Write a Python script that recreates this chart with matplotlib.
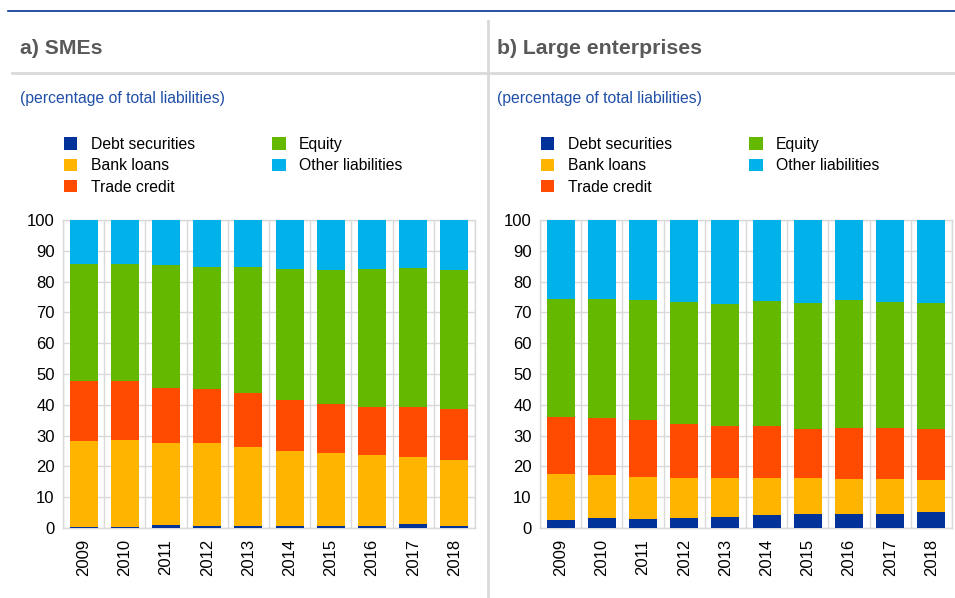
import numpy as np
import matplotlib
matplotlib.use("Agg")
from matplotlib import pyplot as plt
from matplotlib.lines import Line2D
from matplotlib.patches import Patch

plt.rcParams["font.family"] = ["Liberation Sans", "DejaVu Sans"]

years = ["2009", "2010", "2011", "2012", "2013", "2014", "2015", "2016", "2017", "2018"]
series = ["Debt securities", "Bank loans", "Trade credit", "Equity", "Other liabilities"]
colors = ["#003299", "#FFB400", "#FF4B00", "#65B800", "#00B1EA"]

# a) SMEs, percentage of total liabilities
sme_debt = [0.3, 0.3, 1.1, 0.7, 0.5, 0.7, 0.5, 0.8, 1.2, 0.8]
sme_bank = [28.1, 28.3, 26.6, 26.8, 25.8, 24.4, 23.8, 22.9, 21.9, 21.3]
sme_trade = [19.2, 19.0, 17.6, 17.6, 17.4, 16.6, 16.1, 15.7, 16.3, 16.5]
sme_equity = [38.1, 38.1, 40.0, 39.7, 41.1, 42.5, 43.3, 44.6, 44.9, 45.1]
sme_other = [14.3, 14.3, 14.7, 15.2, 15.2, 15.8, 16.3, 16.0, 15.7, 16.3]

# b) Large enterprises
large_debt = [2.7, 3.4, 2.8, 3.1, 3.6, 4.3, 4.4, 4.6, 4.4, 5.3]
large_bank = [14.9, 13.8, 13.8, 13.2, 12.6, 11.9, 11.9, 11.4, 11.6, 10.4]
large_trade = [18.4, 18.6, 18.6, 17.5, 17.0, 16.8, 16.0, 16.5, 16.6, 16.6]
large_equity = [38.3, 38.6, 38.7, 39.5, 39.4, 40.6, 40.9, 41.4, 40.9, 40.6]
large_other = [25.7, 25.6, 26.1, 26.7, 27.4, 26.4, 26.8, 26.1, 26.5, 27.1]

W, H = 955, 598
fig = plt.figure(figsize=(W / 100, H / 100), dpi=100)

grid_col = "#d9d9d9"
blue = "#003299"


def px(x, y):
    return x / W, 1 - y / H


def draw_panel(left, data, title, title_x):
    ax = fig.add_axes([left / W, (H - 528) / H, 412 / W, 308 / H])
    x = np.arange(len(years))
    bottom = np.zeros(len(years))
    for vals, c in zip(data, colors):
        ax.bar(x, vals, 0.68, bottom=bottom, color=c, zorder=3)
        bottom += np.array(vals)
    ax.set_xlim(-0.5, len(years) - 0.5)
    ax.set_ylim(0, 100)
    ax.set_yticks(range(0, 101, 10))
    ax.set_xticks(x)
    ax.set_xticklabels(years, rotation=90)
    ax.set_xticks(np.arange(-0.5, len(years), 1), minor=True)
    ax.tick_params(axis="both", which="both", length=0, labelsize=12, colors="black")
    ax.tick_params(axis="x", pad=8)
    ax.tick_params(axis="y", pad=6)
    ax.grid(axis="y", color=grid_col, lw=1, zorder=0)
    ax.grid(axis="x", which="minor", color=grid_col, lw=1, zorder=0)
    for s in ax.spines.values():
        s.set_color(grid_col)
        s.set_linewidth(1)

    fig.text(*px(title_x, 48), title, fontsize=15.3, fontweight="bold",
             color="#595959", va="center", ha="left")
    fig.text(*px(title_x, 99), "(percentage of total liabilities)", fontsize=11.3,
             color="#1f4fa8", va="center", ha="left")

    handles = [Patch(facecolor=c, edgecolor="none") for c in colors]
    ax.legend(handles, series, loc="upper left", ncol=2,
              bbox_to_anchor=px(left + 1, 137), bbox_transform=fig.transFigure,
              frameon=False, fontsize=11.3, handlelength=0.85, handleheight=0.85,
              handletextpad=0.85, labelspacing=0.4, columnspacing=4.95,
              borderaxespad=0, borderpad=0)
    return ax


draw_panel(63, [sme_debt, sme_bank, sme_trade, sme_equity, sme_other], "a) SMEs", 20)
draw_panel(540, [large_debt, large_bank, large_trade, large_equity, large_other],
           "b) Large enterprises", 497)

# frame lines
fig.add_artist(Line2D([8 / W, 1], [1 - 11 / H] * 2, color=blue, lw=1.2))
fig.add_artist(Line2D([12 / W, 1], [1 - 73 / H] * 2, color=grid_col, lw=2))
fig.add_artist(Line2D([488 / W] * 2, [1 - 21 / H, 0], color=grid_col, lw=2))

fig.savefig("out.png", dpi=100)
